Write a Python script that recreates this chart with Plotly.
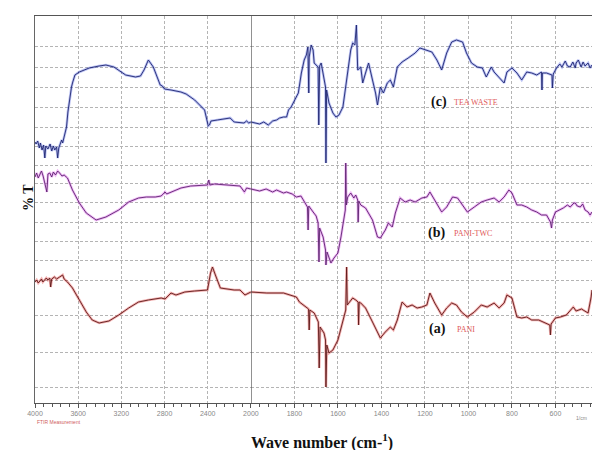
import plotly.graph_objects as go

# ---------------- data (wavenumber cm-1, %T offset units) ----------------
wn_c = [4000, 3990, 3975, 3960, 3950, 3935, 3920, 3909, 3900, 3880, 3860, 3845, 3830, 3817, 3800, 3790, 3780, 3765, 3753, 3744,
        3720, 3708, 3695, 3680, 3662, 3650, 3630, 3589, 3540, 3498, 3406, 3343, 3269, 3160, 3069, 3023, 2990, 2950, 2904, 2840,
        2820, 2800, 2740, 2648, 2600, 2521, 2429, 2411, 2395, 2384, 2370, 2311, 2219, 2192, 2155, 2064, 2040, 2020, 2000,
        1960, 1941, 1920, 1900, 1882, 1868, 1850, 1836, 1827, 1815, 1805, 1782, 1768, 1755, 1745, 1738, 1734, 1732, 1723, 1714,
        1709, 1691, 1688, 1684, 1677, 1668, 1657, 1655, 1652, 1641, 1623, 1609, 1595, 1577, 1564, 1550, 1541, 1532, 1522, 1515,
        1509, 1495, 1486, 1473, 1459, 1441, 1427, 1418, 1410, 1405, 1391, 1373, 1359, 1345, 1327, 1305, 1277, 1245, 1223, 1200,
        1168, 1145, 1123, 1100, 1077, 1055, 1027, 1009, 986, 959, 936, 918, 895, 882, 859, 836, 823, 800, 777, 755, 732, 709,
        686, 664, 662, 660, 641, 616, 614, 610, 595, 580, 570, 564, 555, 545, 532, 520, 509, 505, 495, 482, 473, 464, 450, 441, 432]
t_c = [261, 259, 262, 255, 260, 253, 258, 245, 257, 254, 259, 252, 257, 253, 256, 245, 255, 259, 263, 260,
       271, 276, 291, 303, 316, 321, 328, 331, 333, 335, 337, 338, 336, 328, 326, 327, 333, 343, 336, 318,
       317, 314, 313, 311, 309, 303, 293, 285, 277, 278, 282, 283, 285, 285, 281, 280, 282, 280, 281,
       279, 281, 278, 282, 283, 285, 286, 286, 293, 296, 300, 310, 330, 343, 348, 356, 310, 346, 358, 353,
       340, 336, 278, 337, 340, 330, 316, 240, 313, 300, 290, 286, 288, 296, 316, 340, 353, 360, 358, 378,
       333, 336, 320, 330, 340, 323, 310, 298, 313, 316, 310, 320, 323, 316, 336, 341, 345, 350, 355, 353,
       351, 343, 333, 350, 361, 363, 361, 350, 340, 336, 335, 326, 336, 331, 325, 320, 331, 335, 330, 323, 331, 330,
       328, 331, 313, 330, 330, 328, 315, 329, 335, 339, 336, 338, 342, 337, 336, 341, 335, 340, 343, 336, 341, 337, 340, 335, 338]

wn_b = [4000, 3985, 3970, 3954, 3940, 3925, 3890, 3880, 3863, 3845, 3830, 3810, 3790, 3772, 3750, 3730, 3699, 3653, 3589, 3525,
        3434, 3343, 3224, 3132, 3041, 2968, 2886, 2831, 2795, 2780, 2740, 2648, 2557, 2466, 2402, 2390, 2380, 2338, 2219, 2101,
        2060, 2040, 2000,
        1960, 1930, 1900, 1882, 1850, 1836, 1810, 1791, 1770, 1759, 1740, 1737, 1734, 1714, 1700, 1691, 1687, 1684, 1668, 1657,
        1655, 1650, 1641, 1632, 1618, 1600, 1586, 1573, 1566, 1564, 1561, 1555, 1541, 1527, 1518, 1509, 1507, 1504, 1495, 1473,
        1441, 1418, 1405, 1382, 1368, 1350, 1336, 1314, 1291, 1268, 1245, 1214, 1191, 1177, 1155, 1123, 1100, 1073, 1050, 1027,
        1005, 973, 941, 914, 882, 859, 836, 814, 800, 777, 755, 732, 709, 686, 664, 641, 623, 618, 614, 600, 582, 564, 545, 532,
        515, 509, 500, 486, 475, 464, 450, 441, 432]
t_b = [226, 230, 225, 228, 232, 227, 211, 229, 230, 226, 231, 228, 232, 230, 227, 228, 225, 213, 200, 190,
       183, 186, 193, 201, 205, 206, 206, 207, 211, 209, 211, 215, 217, 218, 218, 223, 218, 219, 218, 217,
       211, 215, 214,
       212, 214, 211, 213, 210, 211, 209, 206, 207, 203, 196, 173, 197, 191, 187, 180, 141, 175, 166, 153,
       138, 151, 146, 140, 145, 150, 166, 186, 193, 240, 198, 206, 210, 205, 208, 203, 181, 202, 198, 195,
       183, 166, 165, 173, 180, 176, 190, 205, 201, 203, 201, 205, 206, 211, 203, 191, 196, 206, 205, 198,
       191, 196, 201, 203, 205, 201, 206, 213, 210, 198, 198, 196, 193, 191, 188, 188, 181, 175, 183, 191, 193, 195, 198, 196,
       200, 200, 197, 196, 199, 193, 191, 188, 191]

wn_a = [4000, 3985, 3970, 3954, 3940, 3927, 3909, 3895, 3881, 3863, 3855, 3845, 3820, 3800, 3772, 3753, 3744, 3730, 3699, 3653,
        3589, 3525, 3470, 3406, 3315, 3224, 3132, 3041, 2950, 2831, 2795, 2740, 2694, 2612, 2521, 2402, 2374, 2356, 2329, 2283,
        2155, 2101, 2055, 2009, 2000,
        1927, 1850, 1791, 1777, 1745, 1735, 1732, 1729, 1709, 1690, 1686, 1682, 1664, 1657, 1655, 1651, 1641, 1623, 1600, 1577,
        1564, 1560, 1557, 1550, 1532, 1518, 1507, 1505, 1502, 1495, 1473, 1441, 1418, 1405, 1382, 1359, 1345, 1327, 1305, 1282,
        1259, 1236, 1214, 1191, 1177, 1155, 1123, 1100, 1077, 1055, 1032, 1005, 973, 941, 914, 882, 859, 836, 823, 800, 777,
        755, 732, 709, 677, 655, 626, 623, 620, 600, 577, 550, 530, 518, 505, 495, 480, 473, 460, 450, 436, 432]
t_a = [121, 123, 120, 122, 124, 121, 123, 125, 123, 125, 116, 124, 126, 124, 126, 127, 128, 124, 121, 115,
       103, 91, 83, 80, 82, 88, 95, 101, 103, 105, 104, 110, 108, 111, 112, 113, 130, 136, 128, 115,
       113, 113, 108, 111, 111,
       110, 110, 106, 101, 96, 94, 73, 93, 90, 81, 35, 76, 70, 63, 16, 58, 50, 53, 63, 83,
       93, 136, 98, 100, 105, 103, 101, 78, 101, 100, 95, 81, 71, 65, 71, 76, 73, 83, 101, 96,
       98, 95, 96, 98, 110, 100, 88, 95, 100, 98, 91, 86, 91, 98, 96, 100, 95, 100, 108, 105, 86,
       85, 86, 83, 83, 81, 78, 68, 79, 85, 86, 88, 93, 96, 92, 93, 94, 93, 91, 90, 106, 113]

x_major_left = [4000, 3600, 3200, 2800, 2400, 2000]
x_major_right = [1800, 1600, 1400, 1200, 1000, 800, 600]
y_grid = [357, 336, 316, 296, 276, 257, 238, 220, 201, 181, 162, 143, 123, 88, 51, 16]

series = [
    ("(c)", "TEA WASTE", wn_c, t_c, "#1f2670", "rgba(60,80,220,0.35)"),
    ("(b)", "PANI-TWC", wn_b, t_b, "#5e2470", "rgba(215,80,230,0.4)"),
    ("(a)", "PANI", wn_a, t_a, "#5e1a1a", "rgba(225,60,60,0.4)"),
]

fig = go.Figure()
for tag, name, wn, t, core, halo in series:
    left = [(w, v) for w, v in zip(wn, t) if w >= 2000]
    right = [(w, v) for w, v in zip(wn, t) if w <= 2000]
    for pts, xa in ((left, "x"), (right, "x2")):
        xs = [p[0] for p in pts]
        ys = [p[1] for p in pts]
        fig.add_trace(go.Scatter(x=xs, y=ys, xaxis=xa, yaxis="y", mode="lines",
                                 line=dict(color=halo, width=2.6), hoverinfo="skip", showlegend=False))
        fig.add_trace(go.Scatter(x=xs, y=ys, xaxis=xa, yaxis="y", mode="lines",
                                 line=dict(color=core, width=0.9), name=name, showlegend=False))

split = 219 / 565
common_x = dict(showline=True, linecolor="#555", linewidth=1, mirror=True,
                showgrid=True, gridcolor="#b4b4b4", gridwidth=1, griddash="3px,2px",
                ticks="outside", ticklen=4, tickcolor="#555",
                tickfont=dict(family="Arial", size=7, color="#888"), zeroline=False)
fig.update_layout(
    width=600, height=450,
    margin=dict(l=35, r=0, t=16, b=47),
    paper_bgcolor="white", plot_bgcolor="white",
    xaxis=dict(domain=[0, split], range=[4000, 2000], tickvals=x_major_left,
               minor=dict(dtick=80, tick0=4000, ticks="outside", ticklen=3, tickcolor="#555", showgrid=False),
               anchor="y", **common_x),
    xaxis2=dict(domain=[split, 1], range=[2000, 432], tickvals=x_major_right,
                minor=dict(dtick=40, tick0=2000, ticks="outside", ticklen=3, tickcolor="#555", showgrid=False),
                anchor="y", **common_x),
    yaxis=dict(range=[0, 387], tickvals=y_grid, showticklabels=False, ticks="",
               showgrid=True, gridcolor="#b4b4b4", griddash="3px,2px",
               showline=True, linecolor="#666", zeroline=False),
    showlegend=False,
)

# solid divider at 2000 cm-1
fig.add_shape(type="line", xref="x2", yref="paper", x0=2000, x1=2000, y0=0, y1=1,
              line=dict(color="#555", width=1.5))

serif = "Liberation Serif"
labels = [("(c)", "TEA WASTE", 1091, 1077, 301), ("(b)", "PANI-TWC", 1100, 1077, 170), ("(a)", "PANI", 1095, 1064, 74)]
for tag, name, xt, xn, yy in labels:
    fig.add_annotation(x=xt, y=yy, xref="x2", yref="y", text="<b>" + tag + "</b>", showarrow=False,
                       xanchor="right", font=dict(family=serif, size=14, color="#111"))
    fig.add_annotation(x=xn, y=yy, xref="x2", yref="y", text=name, showarrow=False,
                       xanchor="left", font=dict(family=serif, size=8, color="#e05a5a"))

fig.add_annotation(x=0.515, y=-0.10, xref="paper", yref="paper", showarrow=False,
                   text="<b>Wave number (cm-<sup>1</sup>)</b>", yanchor="middle",
                   font=dict(family=serif, size=16, color="#111"))
fig.add_annotation(x=-0.03, y=0.532, xref="paper", yref="paper", showarrow=False, textangle=-90,
                   text="<b>% T</b>", font=dict(family=serif, size=14, color="#111"))
fig.add_annotation(x=0.0, y=-0.05, xref="paper", yref="paper", showarrow=False, xanchor="left",
                   yanchor="middle", text="FTIR Measurement", font=dict(family="Arial", size=5, color="#d06060"))
fig.add_annotation(x=0.995, y=-0.04, xref="paper", yref="paper", showarrow=False, xanchor="right",
                   yanchor="middle", text="1/cm", font=dict(family="Arial", size=5, color="#888"))

fig.write_html("out.html")
